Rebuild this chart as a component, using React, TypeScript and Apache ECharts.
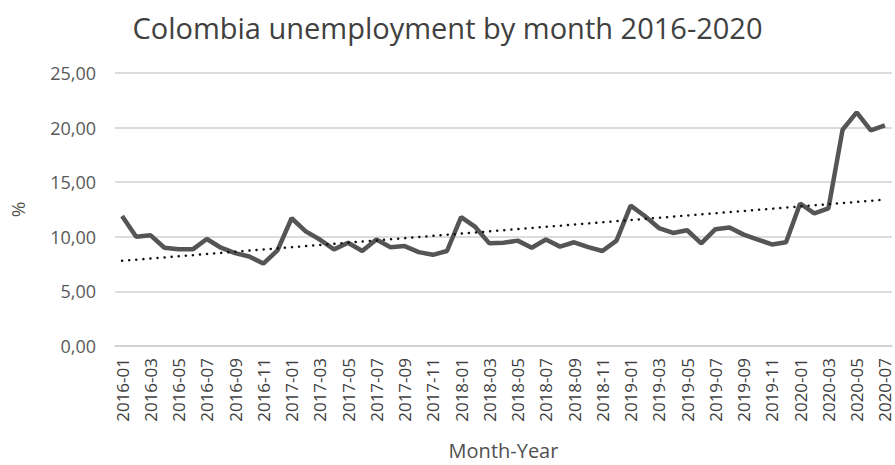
import React, { useEffect, useRef } from "react";
import * as echarts from "echarts";

const months: string[] = [];
const years = [2016, 2017, 2018, 2019, 2020];
for (const y of years) {
  for (let m = 1; m <= 12; m++) {
    if (y === 2020 && m > 7) break;
    months.push(`${y}-${m < 10 ? "0" + m : m}`);
  }
}

const unemployment = [
  // 2016
  11.9, 10.0, 10.15, 9.0, 8.85, 8.85, 9.8, 9.0, 8.5, 8.2, 7.55, 8.75,
  // 2017
  11.7, 10.5, 9.75, 8.85, 9.45, 8.7, 9.75, 9.05, 9.15, 8.6, 8.35, 8.7,
  // 2018
  11.8, 10.9, 9.4, 9.45, 9.65, 9.0, 9.75, 9.1, 9.5, 9.05, 8.7, 9.65,
  // 2019
  12.85, 11.9, 10.8, 10.35, 10.6, 9.4, 10.7, 10.85, 10.2, 9.75, 9.3, 9.5,
  // 2020
  13.05, 12.15, 12.6, 19.8, 21.4, 19.75, 20.2,
];

const trendStart = 7.8;
const trendEnd = 13.4;

const yTicks = [0, 5, 10, 15, 20, 25];

export default function App() {
  const ref = useRef<HTMLDivElement>(null);
  useEffect(() => {
    if (!ref.current) return;
    const chart = echarts.init(ref.current, undefined, { renderer: "svg" });
    const trend = months.map((_, i) =>
      i === 0 ? trendStart : i === months.length - 1 ? trendEnd : null
    );
    chart.setOption({
      animation: false,
      backgroundColor: "#ffffff",
      title: {
        text: "Colombia unemployment by month 2016-2020",
        left: "center",
        top: 8,
        textStyle: {
          fontFamily: "Open Sans",
          fontSize: 29,
          fontWeight: "normal",
          color: "#404040",
        },
      },
      grid: { left: 110, right: 3, top: 73, bottom: 118 },
      xAxis: {
        type: "category",
        data: months,
        boundaryGap: true,
        name: "Month-Year",
        nameLocation: "middle",
        nameGap: 94,
        nameTextStyle: { fontFamily: "Open Sans", fontSize: 20, color: "#505050" },
        axisLine: { show: true, lineStyle: { color: "#d0d0d0", width: 1.5 } },
        axisTick: { show: false },
        axisLabel: {
          interval: 1,
          rotate: 90,
          margin: 12,
          fontFamily: "Open Sans",
          fontSize: 17,
          color: "#404040",
        },
      },
      yAxis: {
        type: "value",
        min: 0,
        max: 25,
        interval: 5,
        name: "%",
        nameLocation: "middle",
        nameGap: 88,
        nameRotate: 90,
        nameTextStyle: { fontFamily: "Open Sans", fontSize: 19, color: "#505050" },
        axisLine: { show: false },
        axisTick: { show: false },
        splitLine: { lineStyle: { color: "#d0d0d0", width: 1.5 } },
        axisLabel: {
          margin: 19,
          fontFamily: "Open Sans",
          fontSize: 18,
          color: "#595959",
          formatter: (v: number) =>
            yTicks.includes(v) ? v.toFixed(2).replace(".", ",") : "",
        },
      },
      series: [
        {
          type: "line",
          data: unemployment,
          symbol: "none",
          lineStyle: { color: "#555555", width: 4.5 },
          z: 3,
        },
        {
          type: "line",
          data: trend,
          connectNulls: true,
          symbol: "none",
          lineStyle: {
            color: "#111111",
            width: 2.5,
            type: [0.1, 7],
            cap: "round",
          },
          z: 4,
        },
      ],
    });
    return () => chart.dispose();
  }, []);
  return <div ref={ref} style={{ width: 895, height: 465, position: "absolute", left: 0, top: 0 }} />;
}
